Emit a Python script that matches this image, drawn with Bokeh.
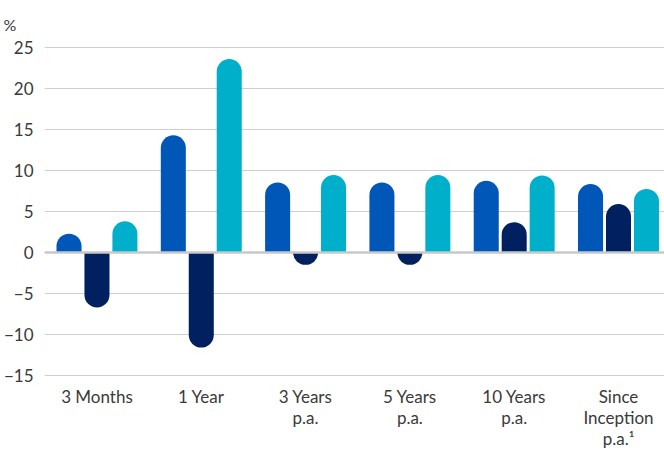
from bokeh.plotting import figure
from bokeh.models import Range1d, FixedTicker, Span, ColumnDataSource
from bokeh.embed import file_html
from bokeh.resources import INLINE

categories = ["3 Months", "1 Year", "3 Years\np.a.", "5 Years\np.a.", "10 Years\np.a.", "Since\nInception\np.a.\u00b9"]
series_blue = [2.3, 14.3, 8.55, 8.55, 8.75, 8.35]
series_navy = [-6.7, -11.6, -1.5, -1.5, 3.7, 5.9]
series_teal = [3.8, 23.6, 9.45, 9.45, 9.4, 7.75]
y_ticks = [-15, -10, -5, 0, 5, 10, 15, 20, 25]

colors = ["#0057B8", "#002060", "#00B0CA"]
offsets = [-0.268, 0.0, 0.268]
bar_w = 0.24
FONT = "Lato"
TXT = "#3a3a3a"

p = figure(frame_width=620, frame_height=332, output_backend="svg", toolbar_location=None,
           x_range=Range1d(-0.503, 5.441), y_range=Range1d(-15.25, 25.25),
           min_border_left=44, min_border_right=0, min_border_top=45, min_border_bottom=73)
p.outline_line_color = None

p.title.text = "%"
p.title.align = "left"
p.title.offset = -41
p.title.text_font = FONT
p.title.text_font_size = "16px"
p.title.text_font_style = "normal"
p.title.text_color = TXT
p.title.standoff = 24

for vals, off, col in zip([series_blue, series_navy, series_teal], offsets, colors):
    xs = [i + off for i in range(len(vals))]
    pos = ColumnDataSource(dict(x=[x for x, v in zip(xs, vals) if v >= 0],
                                top=[v for v in vals if v >= 0]))
    neg = ColumnDataSource(dict(x=[x for x, v in zip(xs, vals) if v < 0],
                                top=[v for v in vals if v < 0]))
    p.vbar(x="x", top="top", bottom=0, width=bar_w, source=pos, fill_color=col,
           line_color=None, border_radius=(13, 13, 0, 0))
    p.vbar(x="x", top="top", bottom=0, width=bar_w, source=neg, fill_color=col,
           line_color=None, border_radius=(0, 0, 13, 13))

p.add_layout(Span(location=0, dimension="width", line_color="#c8c8c8", line_width=2.5))

p.xgrid.grid_line_color = None
p.ygrid.grid_line_color = "#cfcfcf"
p.ygrid.grid_line_width = 1
p.yaxis.ticker = FixedTicker(ticks=y_ticks)
p.xaxis.ticker = FixedTicker(ticks=list(range(len(categories))))
p.xaxis.major_label_overrides = {i: c for i, c in enumerate(categories)}

for ax in (p.xaxis, p.yaxis):
    ax.axis_line_color = None
    ax.major_tick_line_color = None
    ax.minor_tick_line_color = None
    ax.major_label_text_font = FONT
    ax.major_label_text_font_size = "17px"
    ax.major_label_text_color = TXT
p.yaxis.major_label_standoff = 5
p.xaxis.major_label_standoff = 2
p.xaxis.major_label_text_line_height = 1.02
p.yaxis.major_label_overrides = {t: str(t).replace("-", "\u2212") for t in y_ticks}

open("out.html", "w").write(file_html(p, INLINE))
